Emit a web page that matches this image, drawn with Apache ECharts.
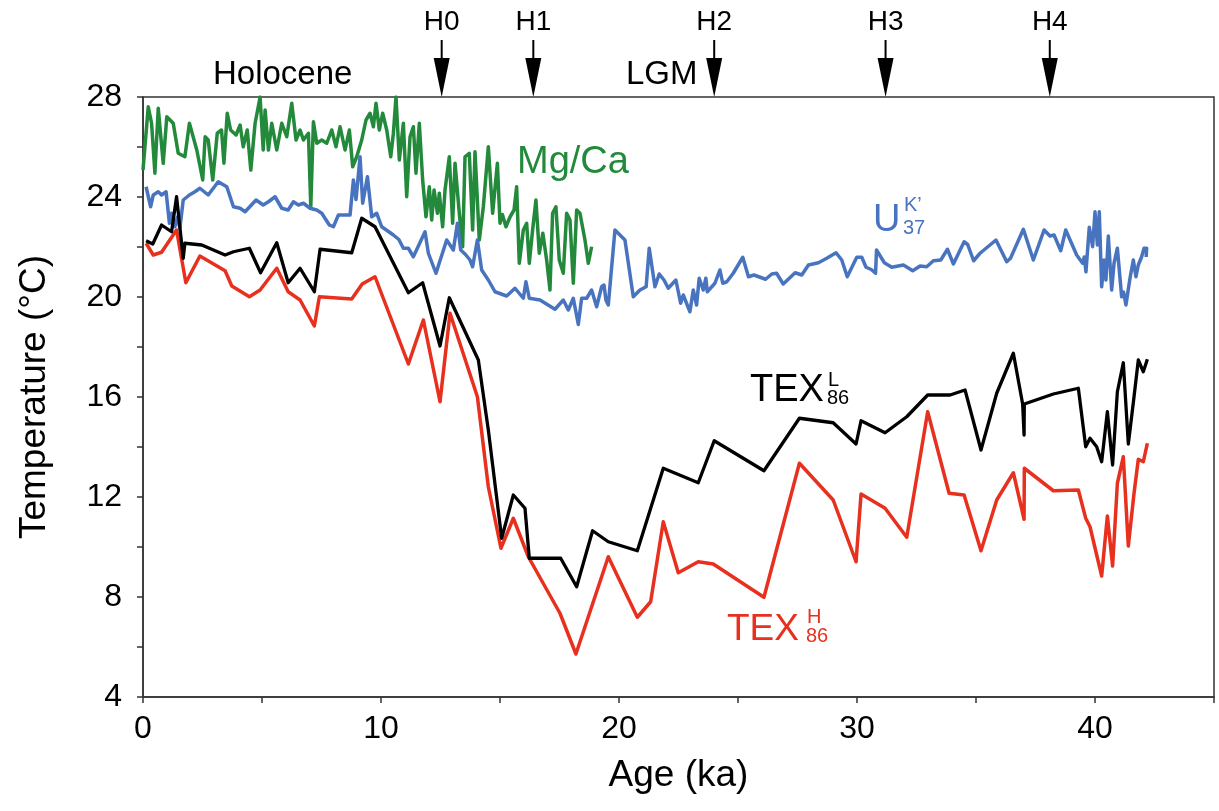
<!DOCTYPE html>
<html>
<head>
<meta charset="utf-8">
<title>SST records</title>
<script src="https://cdn.jsdelivr.net/npm/echarts@6/dist/echarts.min.js"></script>
<style>
  html, body { margin: 0; padding: 0; background: #fff; }
  #chart { width: 1219px; height: 811px; }
</style>
</head>
<body>
<div id="chart"></div>
<script>
  // Mg/Ca record (age in ka, temperature in degC)
  const mgcaAge = [0.0, 0.22, 0.36, 0.5, 0.64, 0.85, 1.0, 1.27, 1.48, 1.76, 1.95, 2.26, 2.51, 2.61, 2.74, 2.93, 3.12, 3.3, 3.4, 3.54, 3.68, 3.91, 4.08, 4.21, 4.38, 4.53, 4.71, 4.92, 5.05, 5.13, 5.27, 5.41, 5.62, 5.83, 6.04, 6.25, 6.43, 6.6, 6.74, 6.95, 7.05, 7.16, 7.3, 7.51, 7.72, 7.93, 8.11, 8.28, 8.49, 8.67, 8.81, 8.98, 9.19, 9.37, 9.54, 9.68, 9.79, 9.93, 10.07, 10.24, 10.41, 10.52, 10.63, 10.77, 10.94, 11.08, 11.22, 11.36, 11.47, 11.61, 11.75, 11.89, 12.03, 12.13, 12.23, 12.37, 12.45, 12.59, 12.69, 12.87, 13.01, 13.11, 13.29, 13.43, 13.53, 13.71, 13.85, 13.95, 14.13, 14.3, 14.51, 14.69, 14.89, 15.0, 15.1, 15.25, 15.42, 15.59, 15.7, 15.81, 15.98, 16.12, 16.23, 16.37, 16.51, 16.65, 16.8, 16.96, 17.1, 17.21, 17.35, 17.49, 17.66, 17.8, 17.94, 18.08, 18.22, 18.36, 18.57, 18.71, 18.85];
  const mgcaTemp = [25.08, 27.61, 26.95, 24.95, 27.55, 25.35, 27.21, 26.95, 25.75, 25.61, 26.95, 25.88, 24.68, 26.41, 26.28, 24.68, 26.55, 26.68, 25.35, 27.35, 26.68, 26.48, 26.88, 26.01, 26.68, 25.08, 26.95, 28.0, 25.88, 27.48, 25.88, 26.95, 25.88, 26.95, 26.41, 27.75, 26.28, 26.68, 26.28, 26.55, 23.61, 27.01, 26.15, 26.28, 26.15, 26.68, 26.01, 26.81, 25.88, 26.68, 25.21, 25.61, 26.28, 27.08, 27.35, 26.81, 27.75, 26.68, 27.35, 26.68, 25.61, 26.55, 28.0, 25.48, 26.95, 24.01, 26.41, 26.81, 24.95, 26.95, 24.68, 23.21, 24.41, 23.08, 24.28, 23.35, 24.15, 22.81, 24.28, 25.61, 22.95, 25.35, 23.35, 22.01, 25.61, 25.75, 22.68, 25.81, 22.28, 23.61, 26.01, 23.35, 25.35, 22.95, 23.3, 22.81, 23.2, 23.48, 24.41, 21.35, 22.68, 22.95, 21.35, 22.68, 23.88, 21.75, 22.55, 21.48, 20.28, 23.35, 23.61, 21.48, 20.95, 23.35, 23.08, 20.55, 23.48, 23.35, 22.28, 21.35, 22.01];

  // UK'37 record
  const ukAge = [0.13, 0.32, 0.43, 0.64, 0.78, 0.97, 1.11, 1.2, 1.34, 1.45, 1.55, 1.69, 1.95, 2.18, 2.39, 2.74, 3.16, 3.52, 3.8, 4.08, 4.29, 4.75, 5.05, 5.27, 5.55, 5.83, 6.1, 6.32, 6.53, 6.74, 7.02, 7.3, 7.51, 7.83, 8.0, 8.21, 8.7, 8.84, 8.95, 9.12, 9.23, 9.43, 9.61, 9.82, 10.03, 10.52, 10.75, 10.94, 11.15, 11.36, 11.85, 11.99, 12.31, 12.76, 13.04, 13.21, 13.35, 13.55, 13.74, 13.85, 14.05, 14.23, 14.51, 14.79, 15.28, 15.63, 15.98, 16.09, 16.23, 16.68, 17.31, 17.66, 17.87, 18.08, 18.29, 18.43, 18.64, 18.85, 19.06, 19.27, 19.37, 19.45, 19.55, 19.83, 20.25, 20.6, 20.88, 21.14, 21.27, 21.51, 21.69, 21.89, 22.07, 22.39, 22.59, 22.7, 22.98, 23.12, 23.26, 23.37, 23.54, 23.65, 23.71, 24.03, 24.24, 24.36, 24.53, 24.8, 25.2, 25.44, 25.67, 26.16, 26.42, 26.62, 26.9, 27.4, 27.68, 27.96, 28.38, 28.73, 29.12, 29.36, 29.59, 29.99, 30.2, 30.38, 30.6, 30.78, 30.82, 31.15, 31.46, 31.95, 32.34, 32.65, 32.93, 33.21, 33.52, 33.8, 34.05, 34.5, 34.65, 34.9, 35.17, 35.84, 36.29, 36.45, 36.99, 37.41, 37.86, 38.11, 38.28, 38.56, 38.77, 39.23, 39.48, 39.55, 39.62, 39.76, 39.9, 40.0, 40.1, 40.18, 40.28, 40.38, 40.46, 40.56, 40.7, 40.8, 40.94, 41.12, 41.2, 41.3, 41.47, 41.61, 41.72, 41.82, 41.96, 42.06, 42.17, 42.15];
  const ukTemp = [24.41, 23.61, 24.08, 24.21, 24.08, 24.21, 22.95, 23.35, 22.81, 23.2, 22.75, 23.88, 24.08, 24.21, 24.35, 24.08, 24.61, 24.41, 23.61, 23.55, 23.41, 23.88, 23.68, 23.81, 24.01, 23.55, 23.48, 23.81, 23.68, 23.75, 23.55, 23.48, 23.35, 22.88, 22.81, 23.28, 23.28, 24.68, 23.9, 25.61, 23.75, 24.81, 23.21, 23.35, 22.81, 22.48, 22.3, 21.95, 21.95, 21.61, 22.61, 21.75, 20.95, 22.28, 21.88, 22.95, 21.88, 21.7, 21.48, 21.21, 22.28, 21.08, 20.68, 20.21, 20.04, 20.35, 19.95, 20.61, 19.95, 19.88, 19.51, 19.88, 19.48, 19.95, 18.9, 19.95, 19.95, 20.28, 19.61, 20.41, 20.48, 19.88, 19.68, 22.68, 22.28, 20.01, 20.28, 20.41, 21.95, 20.41, 20.92, 20.68, 20.35, 20.68, 19.75, 20.08, 19.41, 20.28, 19.68, 20.75, 20.28, 20.75, 20.21, 20.55, 21.08, 20.55, 20.61, 20.95, 21.59, 20.81, 20.88, 20.71, 20.92, 20.95, 20.52, 20.97, 20.88, 21.28, 21.37, 21.55, 21.77, 21.48, 20.81, 21.59, 21.59, 21.19, 21.1, 20.95, 21.88, 21.37, 21.19, 21.28, 21.05, 21.24, 21.21, 21.45, 21.48, 21.91, 21.32, 22.21, 22.1, 21.45, 21.75, 22.28, 21.41, 21.55, 22.71, 21.48, 22.68, 22.44, 22.48, 21.85, 22.68, 21.68, 21.35, 21.6, 21.01, 22.79, 22.01, 23.41, 22.08, 23.41, 20.41, 21.48, 20.68, 22.44, 20.28, 21.35, 21.95, 20.01, 20.2, 19.68, 20.75, 21.48, 20.81, 21.28, 21.61, 21.95, 21.95, 21.6];

  // TEX86H record
  const texHAge = [0.13, 0.43, 0.78, 1.41, 1.8, 2.39, 3.45, 3.73, 4.47, 4.92, 5.62, 6.1, 6.6, 7.2, 7.41, 8.77, 9.21, 9.75, 11.15, 11.78, 12.48, 12.9, 14.05, 14.51, 15.04, 15.56, 16.19, 17.52, 18.19, 19.55, 20.77, 21.33, 21.86, 22.49, 23.33, 23.96, 26.09, 27.58, 29.0, 29.96, 30.17, 31.18, 32.09, 32.97, 33.87, 34.5, 35.21, 35.87, 36.57, 37.02, 37.03, 38.25, 39.3, 39.61, 39.79, 40.28, 40.52, 40.74, 40.94, 41.19, 41.4, 41.64, 41.82, 42.03, 42.2];
  const texHTemp = [22.15, 21.68, 21.79, 22.68, 20.57, 21.64, 21.05, 20.44, 20.01, 20.28, 21.15, 20.21, 19.88, 18.84, 20.01, 19.92, 20.52, 20.81, 17.32, 19.08, 15.81, 19.35, 16.01, 12.41, 9.95, 11.15, 9.61, 7.35, 5.72, 9.61, 7.19, 7.81, 11.01, 8.97, 9.41, 9.32, 7.99, 13.35, 11.88, 9.41, 12.12, 11.55, 10.39, 15.41, 12.15, 12.08, 9.85, 11.88, 12.97, 11.11, 13.15, 12.25, 12.28, 11.15, 10.81, 8.84, 11.24, 9.24, 12.55, 13.61, 10.04, 12.15, 13.51, 13.41, 14.15];

  // TEX86L record
  const texLAge = [0.13, 0.41, 0.78, 1.2, 1.41, 1.69, 1.76, 2.47, 3.45, 3.8, 4.47, 4.94, 5.62, 6.1, 6.6, 7.2, 7.44, 8.77, 9.19, 9.75, 11.15, 11.75, 12.48, 12.87, 14.09, 14.51, 15.07, 15.56, 16.05, 16.23, 17.55, 18.22, 18.89, 19.55, 20.77, 21.86, 23.33, 24.0, 26.09, 27.58, 29.0, 29.96, 30.17, 31.18, 32.09, 32.97, 33.91, 34.54, 35.21, 35.87, 36.57, 36.96, 37.02, 37.03, 38.25, 39.3, 39.61, 39.79, 40.07, 40.28, 40.52, 40.74, 40.94, 41.19, 41.4, 41.64, 41.82, 42.03, 42.2];
  const texLTemp = [22.25, 22.12, 22.88, 22.61, 24.01, 21.55, 22.15, 22.08, 21.68, 21.81, 21.95, 20.97, 22.17, 20.57, 21.15, 20.21, 21.91, 21.77, 23.15, 22.81, 20.17, 20.57, 18.04, 19.97, 17.48, 14.68, 10.35, 12.08, 11.55, 9.55, 9.55, 8.41, 10.65, 10.21, 9.85, 13.15, 12.57, 14.25, 13.05, 15.15, 14.97, 14.12, 15.05, 14.57, 15.21, 16.08, 16.08, 16.28, 13.88, 16.15, 17.75, 15.72, 14.48, 15.72, 16.12, 16.35, 14.01, 14.35, 14.01, 13.41, 15.41, 13.28, 16.21, 17.37, 14.12, 16.01, 17.48, 17.01, 17.51];

  // Heinrich events (ka)
  const eventNames = ['H0', 'H1', 'H2', 'H3', 'H4'];
  const eventAge = [12.55, 16.4, 24.0, 31.2, 38.1];

  const FONT = '"Liberation Sans", Arial, Helvetica, sans-serif';
  const GREEN = '#238a3c';
  const BLUE = '#4874bf';
  const RED = '#e8301f';

  function pairs(xs, ys) {
    return xs.map((x, i) => [x, ys[i]]);
  }

  function lineSeries(name, data, color, width) {
    return {
      name: name,
      type: 'line',
      data: data,
      showSymbol: false,
      symbol: 'none',
      lineStyle: { color: color, width: width, join: 'round' },
      itemStyle: { color: color },
      z: 2
    };
  }

  const chart = echarts.init(document.getElementById('chart'));
  const option = {
    animation: false,
    backgroundColor: '#fff',
    grid: {
      left: 143, right: 5, top: 97, bottom: 114,
      show: true, borderColor: '#333', borderWidth: 1.5
    },
    xAxis: {
      type: 'value',
      min: 0, max: 45, interval: 5,
      name: 'Age (ka)',
      nameLocation: 'middle',
      nameGap: 60,
      nameTextStyle: { fontFamily: FONT, fontSize: 37, color: '#000' },
      axisLine: { show: true, onZero: false, lineStyle: { color: '#333', width: 1.5 } },
      axisTick: { show: true, inside: false, length: 6, lineStyle: { color: '#333', width: 1.5 } },
      axisLabel: {
        fontFamily: FONT, fontSize: 32, color: '#000', margin: 16,
        formatter: v => (v % 10 === 0 ? String(v) : '')
      },
      splitLine: { show: false }
    },
    yAxis: {
      type: 'value',
      min: 4, max: 28, interval: 2,
      name: 'Temperature (°C)',
      nameLocation: 'middle',
      nameGap: 90,
      nameRotate: 90,
      nameTextStyle: { fontFamily: FONT, fontSize: 37, color: '#000' },
      axisLine: { show: true, onZero: false, lineStyle: { color: '#333', width: 1.5 } },
      axisTick: { show: true, inside: false, length: 6, lineStyle: { color: '#333', width: 1.5 } },
      axisLabel: {
        fontFamily: FONT, fontSize: 32, color: '#000', margin: 21,
        formatter: v => (v % 4 === 0 ? String(v) : '')
      },
      splitLine: { show: false }
    },
    series: [
      lineSeries('Mg/Ca', pairs(mgcaAge, mgcaTemp), GREEN, 3.5),
      lineSeries("UK'37", pairs(ukAge, ukTemp), BLUE, 3.5),
      lineSeries('TEX86H', pairs(texHAge, texHTemp), RED, 3.5),
      lineSeries('TEX86L', pairs(texLAge, texLTemp), '#000', 3.3)
    ]
  };
  chart.setOption(option);

  function label(text, x, y, size, color) {
    return {
      type: 'text', x: x, y: y, silent: true, z: 10,
      style: {
        text: text, fill: color, fontFamily: FONT, fontSize: size,
        textAlign: 'left', textVerticalAlign: 'middle'
      }
    };
  }

  const graphics = [
    label('Holocene', 213, 75, 33, '#000'),
    label('LGM', 626, 75, 33, '#000'),
    label('Mg/Ca', 517, 163, 38, GREEN),
    label('U', 873, 221, 38, BLUE),
    label('K\u2019', 904, 205, 20, BLUE),
    label('37', 903, 228, 20, BLUE),
    label('TEX', 750, 391, 38, '#000'),
    label('L', 828, 380, 20, '#000'),
    label('86', 827, 398, 20, '#000'),
    label('TEX', 727, 630, 37, RED),
    label('H', 807, 617, 20, RED),
    label('86', 806, 636, 20, RED)
  ];

  // Heinrich event arrows, placed through the x scale
  const topY = 97;
  eventAge.forEach((age, i) => {
    const px = chart.convertToPixel({ xAxisIndex: 0 }, age);
    graphics.push({
      type: 'line', silent: true, z: 10,
      shape: { x1: px, y1: 40, x2: px, y2: 62 },
      style: { stroke: '#000', lineWidth: 2 }
    });
    graphics.push({
      type: 'polygon', silent: true, z: 10,
      shape: { points: [[px - 8, 58], [px + 8, 58], [px, topY]] },
      style: { fill: '#000' }
    });
    graphics.push({
      type: 'text', x: px, y: 22, silent: true, z: 10,
      style: {
        text: eventNames[i], fill: '#000', fontFamily: FONT, fontSize: 28,
        textAlign: 'center', textVerticalAlign: 'middle'
      }
    });
  });

  chart.setOption({ graphic: graphics });
</script>
</body>
</html>
